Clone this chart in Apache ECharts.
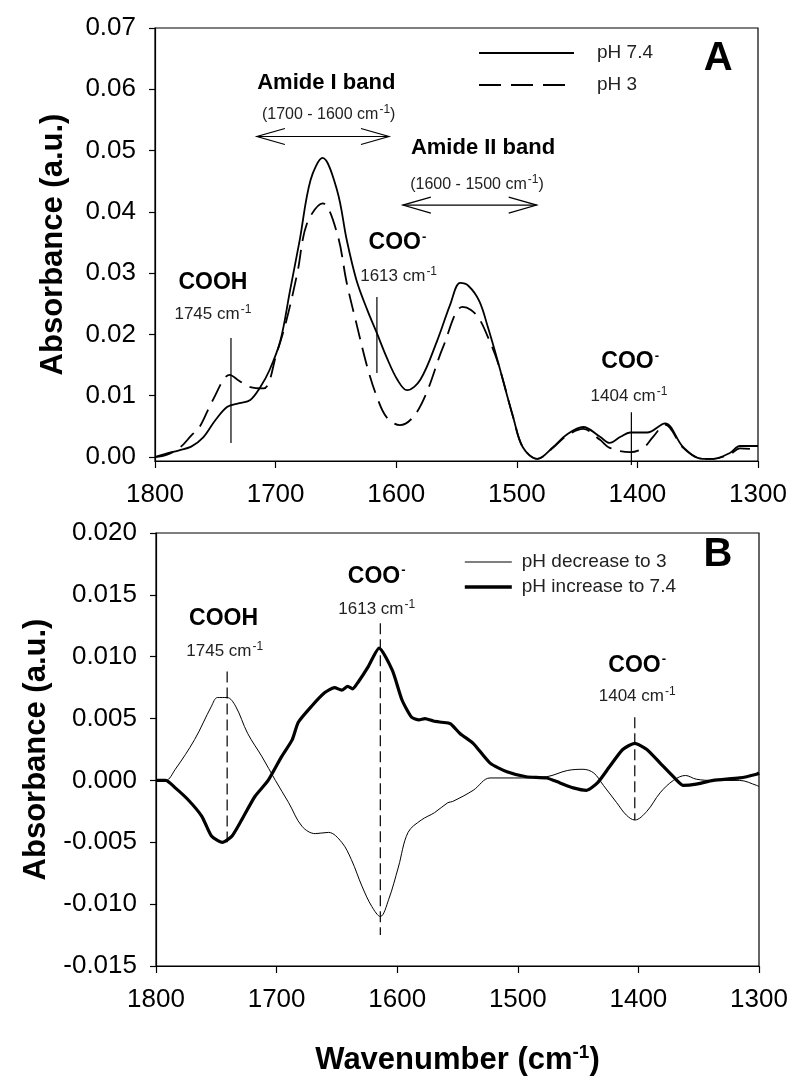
<!DOCTYPE html>
<html><head><meta charset="utf-8">
<script src="https://cdn.jsdelivr.net/npm/echarts@6/dist/echarts.min.js"></script>
<style>html,body{margin:0;padding:0;background:#fff}#c{width:800px;height:1090px}</style>
</head><body><div id="c"></div>
<script>
const FONT = '"Liberation Sans", Arial, sans-serif';

// ---------- Panel A: absorbance spectra ----------
const topTicks = [0, 0.01, 0.02, 0.03, 0.04, 0.05, 0.06, 0.07];
const xTicks = [1800, 1700, 1600, 1500, 1400, 1300];

const ph74Wn = [1800,1790,1780,1770,1760,1750,1740,1730,1721,1713,1705,1696,1688,1680,1671,1661,1649,1641,1633,1624,1616,1608,1599,1591,1580,1566,1555,1547,1540,1531,1524,1516,1503,1495,1483,1470,1459,1445,1431,1423,1414,1406,1392,1377,1362,1346,1337,1323,1315,1300];
const ph74Abs = [0.0000,0.0006,0.0011,0.0017,0.0032,0.0060,0.0082,0.0088,0.0093,0.0113,0.0142,0.0190,0.0272,0.0354,0.0452,0.0488,0.0435,0.0354,0.0289,0.0240,0.0202,0.0163,0.0126,0.0109,0.0126,0.0190,0.0250,0.0284,0.0279,0.0254,0.0212,0.0158,0.0065,0.0016,-0.0003,0.0016,0.0036,0.0049,0.0033,0.0023,0.0033,0.0040,0.0040,0.0055,0.0016,-0.0003,-0.0003,0.0007,0.0018,0.0018];

const ph3Wn = [1800,1790,1779,1770,1763,1752,1738,1730,1721,1710,1699,1691,1682,1674,1661,1649,1641,1633,1624,1616,1608,1597,1586,1575,1561,1545,1538,1531,1524,1516,1503,1495,1483,1470,1459,1445,1431,1423,1406,1395,1387,1377,1362,1346,1337,1323,1315,1300];
const ph3Abs = [0.0000,0.0004,0.0016,0.0035,0.0049,0.0093,0.0134,0.0124,0.0114,0.0112,0.0170,0.0223,0.0300,0.0381,0.0414,0.0365,0.0284,0.0218,0.0147,0.0098,0.0065,0.0052,0.0065,0.0104,0.0180,0.0245,0.0240,0.0225,0.0196,0.0156,0.0065,0.0016,-0.0003,0.0015,0.0034,0.0046,0.0028,0.0015,0.0008,0.0015,0.0033,0.0053,0.0015,-0.0003,-0.0003,0.0005,0.0014,0.0012];

// ---------- Panel B: difference spectra ----------
const decWn = [1800,1792,1784,1768,1754,1749,1741,1734,1724,1712,1701,1690,1679,1668,1657,1646,1638,1629,1621,1614,1607,1599,1591,1580,1569,1558,1554,1537,1523,1496,1476,1459,1446,1437,1429,1418,1410,1403,1393,1382,1371,1361,1352,1338,1316,1302,1300];
const decAbs = [0.0000,0.0000,0.0009,0.0033,0.0060,0.0067,0.0067,0.0060,0.0038,0.0019,0.0000,-0.0018,-0.0037,-0.0043,-0.0042,-0.0050,-0.0064,-0.0086,-0.0102,-0.0110,-0.0096,-0.0070,-0.0042,-0.0032,-0.0026,-0.0018,-0.0017,-0.0008,0.0002,0.0002,0.0003,0.0008,0.0009,0.0006,-0.0004,-0.0018,-0.0028,-0.0032,-0.0025,-0.0010,0.0000,0.0004,0.0001,0.0000,0.0000,-0.0004,-0.0005];

const incWn = [1800,1792,1784,1773,1762,1754,1745,1737,1729,1718,1707,1696,1687,1682,1671,1660,1652,1646,1641,1637,1632,1624,1615,1604,1596,1588,1582,1577,1570,1563,1556,1548,1537,1523,1509,1493,1476,1465,1454,1443,1434,1424,1413,1403,1393,1382,1371,1363,1352,1338,1316,1302,1300];
const incAbs = [0.0000,0.0000,-0.0006,-0.0016,-0.0029,-0.0045,-0.0050,-0.0045,-0.0032,-0.0013,0.0000,0.0019,0.0033,0.0047,0.0060,0.0071,0.0075,0.0073,0.0076,0.0074,0.0080,0.0092,0.0107,0.0089,0.0065,0.0051,0.0049,0.0050,0.0048,0.0047,0.0046,0.0038,0.0030,0.0014,0.0007,0.0003,0.0002,-0.0002,-0.0006,-0.0008,-0.0002,0.0011,0.0025,0.0030,0.0025,0.0014,0.0003,-0.0004,-0.0003,0.0000,0.0002,0.0005,0.0006];

const zip = (a, b) => a.map((w, i) => [w, b[i]]);

const chart = echarts.init(document.getElementById('c'));

function xAxisCfg(gi, withName) {
  const ax = {
    type: 'value', gridIndex: gi, min: 1300, max: 1800, interval: 100, inverse: true,
    axisLine: { onZero: false, lineStyle: { color: '#000', width: 1.2 } },
    axisTick: { show: true, length: 7, lineStyle: { color: '#000', width: 1.2 } },
    axisLabel: { fontSize: 26, color: '#000', fontFamily: FONT, margin: 21, formatter: v => String(v) },
    splitLine: { show: false }
  };
  if (withName) {
    ax.name = '{a|Wavenumber (cm}{s|-1}{a|)}';
    ax.nameLocation = 'middle';
    ax.nameGap = 77;
    ax.nameTextStyle = {
      rich: {
        a: { fontSize: 31, fontWeight: 'bold', fontFamily: FONT, color: '#000' },
        s: { fontSize: 19, fontWeight: 'bold', fontFamily: FONT, color: '#000', verticalAlign: 'top', padding: [0, 0, 15, 0] }
      }
    };
  }
  return ax;
}

const yNameStyle = { fontSize: 31, fontWeight: 'bold', fontFamily: FONT, color: '#000' };
const hideSym = { color: 'rgba(0,0,0,0)', borderWidth: 0 };

const option = {
  backgroundColor: '#fff',
  animation: false,
  grid: [
    { left: 155, top: 28, width: 603, height: 433, show: true, borderColor: '#000', borderWidth: 1.2, backgroundColor: 'transparent' },
    { left: 156, top: 533, width: 603, height: 433, show: true, borderColor: '#000', borderWidth: 1.2, backgroundColor: 'transparent' }
  ],
  xAxis: [xAxisCfg(0, false), xAxisCfg(1, true)],
  yAxis: [
    {
      type: 'value', gridIndex: 0, min: -0.00065, max: 0.07,
      name: 'Absorbance (a.u.)', nameLocation: 'middle', nameGap: 86, nameTextStyle: yNameStyle,
      axisLine: { show: true, onZero: false, lineStyle: { color: '#000', width: 1.2 } },
      axisTick: { show: true, length: 6, customValues: topTicks, lineStyle: { color: '#000', width: 1.2 } },
      axisLabel: { fontSize: 26, color: '#000', fontFamily: FONT, margin: 19, customValues: topTicks, formatter: v => v.toFixed(2) },
      splitLine: { show: false }
    },
    {
      type: 'value', gridIndex: 1, min: -0.015, max: 0.02, interval: 0.005,
      name: 'Absorbance (a.u.)', nameLocation: 'middle', nameGap: 97, nameTextStyle: yNameStyle,
      axisLine: { show: true, onZero: false, lineStyle: { color: '#000', width: 1.2 } },
      axisTick: { show: true, length: 6, lineStyle: { color: '#000', width: 1.2 } },
      axisLabel: { fontSize: 26, color: '#000', fontFamily: FONT, margin: 19, formatter: v => (Math.abs(v) < 1e-9 ? 0 : v).toFixed(3) },
      splitLine: { show: false }
    }
  ],
  legend: [
    { data: [
        { name: 'pH 7.4', itemStyle: hideSym, lineStyle: { color: '#000', width: 2, type: 'solid' } },
        { name: 'pH 3', itemStyle: hideSym, lineStyle: { color: '#000', width: 2, type: [22, 10] } }
      ],
      orient: 'vertical', left: 473, top: 38, itemWidth: 95, itemHeight: 20, itemGap: 12, selectedMode: false,
      itemStyle: hideSym,
      textStyle: { fontSize: 19, fontFamily: FONT, color: '#222', padding: [0, 0, 0, 18], lineHeight: 20 } },
    { data: [
        { name: 'pH decrease to 3', itemStyle: hideSym, lineStyle: { color: '#000', width: 1 } },
        { name: 'pH increase to 7.4', itemStyle: hideSym, lineStyle: { color: '#000', width: 3.6 } }
      ],
      orient: 'vertical', left: 458, top: 547, itemWidth: 47, itemHeight: 20, itemGap: 5, selectedMode: false,
      itemStyle: hideSym,
      textStyle: { fontSize: 19, fontFamily: FONT, color: '#222', padding: [0, 0, 0, 5], lineHeight: 20 } }
  ],
  series: [
    { name: 'pH 7.4', type: 'line', xAxisIndex: 0, yAxisIndex: 0, data: zip(ph74Wn, ph74Abs), showSymbol: false, symbol: 'none', smooth: 0.35, clip: false,
      lineStyle: { color: '#000', width: 1.8 }, itemStyle: { color: '#000' } },
    { name: 'pH 3', type: 'line', xAxisIndex: 0, yAxisIndex: 0, data: zip(ph3Wn, ph3Abs), showSymbol: false, symbol: 'none', smooth: 0.35, clip: false,
      lineStyle: { color: '#000', width: 1.8, type: [19, 9] }, itemStyle: { color: '#000' } },
    { name: 'pH decrease to 3', type: 'line', xAxisIndex: 1, yAxisIndex: 1, data: zip(decWn, decAbs), showSymbol: false, symbol: 'none', smooth: 0.35,
      lineStyle: { color: '#000', width: 1 }, itemStyle: { color: '#000' } },
    { name: 'pH increase to 7.4', type: 'line', xAxisIndex: 1, yAxisIndex: 1, data: zip(incWn, incAbs), showSymbol: false, symbol: 'none', smooth: 0.2,
      lineStyle: { color: '#000', width: 3.2 }, itemStyle: { color: '#000' } }
  ]
};
chart.setOption(option);

// ---------- annotations (positions in data units) ----------
const P = (g, wn, v) => chart.convertToPixel({ xAxisIndex: g, yAxisIndex: g }, [wn, v]);

const richStyles = {
  b: { fontSize: 23, fontWeight: 'bold', fontFamily: FONT, fill: '#000', color: '#000' },
  bs: { fontSize: 13, fontWeight: 'bold', fontFamily: FONT, fill: '#000', color: '#000', verticalAlign: 'top', padding: [0, 0, 12, 1] },
  n: { fontSize: 17, fontFamily: FONT, fill: '#222', color: '#222' },
  ns: { fontSize: 12, fontFamily: FONT, fill: '#222', color: '#222', verticalAlign: 'top', padding: [0, 0, 10, 1] },
  m: { fontSize: 16, fontFamily: FONT, fill: '#222', color: '#222' },
  h: { fontSize: 22, fontWeight: 'bold', fontFamily: FONT, fill: '#000', color: '#000' },
  big: { fontSize: 40, fontWeight: 'bold', fontFamily: FONT, fill: '#000', color: '#000' }
};

function txt(g, wn, v, text) {
  const p = P(g, wn, v);
  return { type: 'text', x: p[0], y: p[1], z: 100, silent: true,
    style: { text: text, align: 'center', verticalAlign: 'middle', rich: richStyles } };
}
function vline(g, wn, v1, v2, dashed, w) {
  const a = P(g, wn, v1), b = P(g, wn, v2);
  return { type: 'line', z: 90, silent: true, shape: { x1: a[0], y1: a[1], x2: b[0], y2: b[1] },
    style: { stroke: '#000', lineWidth: w || 1.2, lineDash: dashed ? [11, 5] : null } };
}
function darrow(g, wn1, wn2, v) {
  const a = P(g, wn1, v), b = P(g, wn2, v);
  const L = 28, H = 8;
  return [
    { type: 'line', z: 90, silent: true, shape: { x1: a[0], y1: a[1], x2: b[0], y2: b[1] }, style: { stroke: '#000', lineWidth: 1.2 } },
    { type: 'polyline', z: 90, silent: true, shape: { points: [[a[0] + L, a[1] - H], [a[0], a[1]], [a[0] + L, a[1] + H]] }, style: { stroke: '#000', lineWidth: 1.2, fill: null } },
    { type: 'polyline', z: 90, silent: true, shape: { points: [[b[0] - L, b[1] - H], [b[0], b[1]], [b[0] - L, b[1] + H]] }, style: { stroke: '#000', lineWidth: 1.2, fill: null } }
  ];
}

const graphics = [
  // Panel A
  txt(0, 1333, 0.0650, '{big|A}'),
  txt(0, 1658, 0.0610, '{h|Amide I band}'),
  txt(0, 1656, 0.0558, '{m|(1700 - 1600 cm}{ns|-1}{m|)}'),
  ...darrow(0, 1715.5, 1606, 0.0523),
  txt(0, 1528, 0.0504, '{h|Amide II band}'),
  txt(0, 1533, 0.0445, '{m|(1600 - 1500 cm}{ns|-1}{m|)}'),
  ...darrow(0, 1594.5, 1483.5, 0.0411),
  txt(0, 1752, 0.0285, '{b|COOH}'),
  txt(0, 1752, 0.0233, '{n|1745 cm}{ns|-1}'),
  vline(0, 1737, 0.0194, 0.0023),
  txt(0, 1599, 0.0349, '{b|COO}{bs|-}'),
  txt(0, 1598, 0.0295, '{n|1613 cm}{ns|-1}'),
  vline(0, 1616, 0.0261, 0.0137),
  txt(0, 1406, 0.0155, '{b|COO}{bs|-}'),
  txt(0, 1407, 0.0099, '{n|1404 cm}{ns|-1}'),
  vline(0, 1405, 0.0073, -0.0013),
  // Panel B
  txt(1, 1334, 0.0182, '{big|B}'),
  txt(1, 1744, 0.0131, '{b|COOH}'),
  txt(1, 1743, 0.0104, '{n|1745 cm}{ns|-1}'),
  vline(1, 1741, 0.0088, -0.0050, true),
  txt(1, 1617, 0.0165, '{b|COO}{bs|-}'),
  txt(1, 1617, 0.0138, '{n|1613 cm}{ns|-1}'),
  vline(1, 1614, 0.0127, -0.0125, true),
  txt(1, 1401, 0.0093, '{b|COO}{bs|-}'),
  txt(1, 1401, 0.0068, '{n|1404 cm}{ns|-1}'),
  vline(1, 1403, 0.0051, -0.0032, true)
];
chart.setOption({ graphic: graphics });
</script></body></html>
